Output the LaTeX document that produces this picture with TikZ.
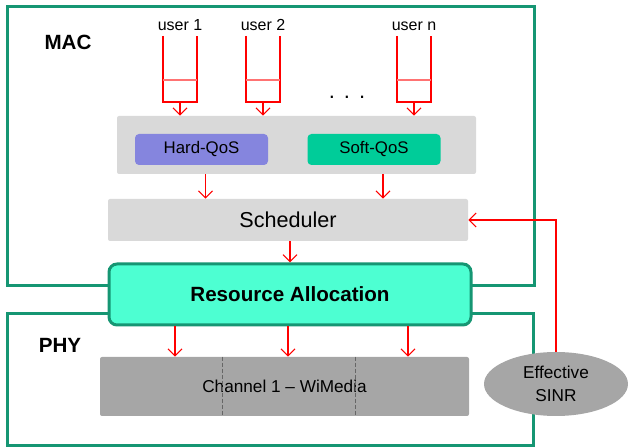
\documentclass[tikz,border=0pt]{standalone}
\usepackage{fontspec}
\setmainfont{Liberation Sans}
\usetikzlibrary{arrows.meta,shapes.geometric}
\definecolor{frameGreen}{RGB}{22,150,115}
\definecolor{raFill}{RGB}{77,255,210}
\definecolor{hardFill}{RGB}{133,133,222}
\definecolor{softFill}{RGB}{0,204,153}
\definecolor{boxGray}{RGB}{217,217,217}
\definecolor{chanGray}{RGB}{166,166,166}

\begin{document}
\begin{tikzpicture}[x=0.5pt,y=-0.5pt,
   frame/.style={draw=frameGreen, line width=1.5pt},
   flow/.style={draw=red, line width=0.55pt, -{Straight Barb[length=3.5pt,width=7pt]}},
   queue/.style={minimum width=17pt, minimum height=33pt, inner sep=0pt, outer sep=0pt},
   userlabel/.style={anchor=south, inner sep=1.5pt, font=\fontsize{8}{9}\selectfont},
   layer/.style={font=\bfseries\fontsize{10.3}{12}\selectfont},
   qosbox/.style={rounded corners=2pt, minimum width=66.5pt, minimum height=15.5pt,
                  font=\fontsize{8.4}{10}\selectfont},
   graybox/.style={fill=boxGray, rounded corners=1pt}]

\useasboundingbox (0,0) rectangle (628,448);

% MAC and PHY layers
\draw[frame] (7,7) rectangle (534,286);
\draw[frame] (7,314) rectangle (533,446);
\node[layer] (mac) at (68,42) {MAC};
\node[layer] (phy) at (60,345) {PHY};

% user queues
\foreach \c/\n/\lw in {180/1/0.7pt, 263/2/1.1pt, 414/n/0.7pt}{
    \node[queue] (q\n) at (\c,69) {};
    \draw[red, line width=\lw] (q\n.north west) -- (q\n.south west)
        -- (q\n.south east) -- (q\n.north east);
    \draw[red!55, line width=\lw] ([yshift=11pt]q\n.south west) -- ([yshift=11pt]q\n.south east);
    \node[userlabel] (u\n) at ([yshift=1pt]q\n.north) {user \n};
}
\node[anchor=base, font=\fontsize{11}{12}\selectfont] (dots) at (347,99)
    {.\hspace{4.5pt}.\hspace{4.5pt}.};

% QoS classes
\node[graybox, minimum width=179.5pt, minimum height=29pt] (qos) at (296.5,145) {};
\node[qosbox, fill=hardFill] (hard) at (201.5,149.5) {Hard-QoS};
\node[qosbox, fill=softFill] (soft) at (374,149.5) {Soft-QoS};
\foreach \n in {1,2,n}
    \draw[flow] (q\n.south) -- (q\n.south |- qos.north);

% scheduler
\node[graybox, minimum width=180pt, minimum height=21pt,
      font=\fontsize{10.8}{12}\selectfont] (sched) at (288,220) {Scheduler};
\draw[flow] ([xshift=2pt]hard.south |- qos.south) -- ([xshift=2pt]hard.south |- sched.north);
\draw[flow] ([xshift=4.5pt]soft.south |- qos.south) -- ([xshift=4.5pt]soft.south |- sched.north);

% resource allocation
\node[draw=frameGreen, line width=1.5pt, fill=raFill, rounded corners=4pt,
      minimum width=181pt, minimum height=30.5pt,
      font=\bfseries\fontsize{10.3}{12}\selectfont] (ra) at (290,294.5) {Resource Allocation};
\draw[flow] ([xshift=1pt]sched.south) -- ([xshift=1pt]sched.south |- ra.north);

% channel
\node[fill=chanGray, rounded corners=1pt, minimum width=184.5pt, minimum height=29.5pt,
      font=\fontsize{8.6}{10}\selectfont, text=black] (chan) at (284.5,386.5)
      {Channel 1 -- WiMedia};
\foreach \dx in {-31.25pt,35.25pt}
    \draw[black!60, dashed, line width=0.4pt, dash pattern=on 2pt off 1pt]
        ([xshift=\dx]chan.north) -- ([xshift=\dx]chan.south);
\foreach \dx in {-57.5pt,-1pt,59pt}
    \draw[flow] ([xshift=\dx]ra.south) -- ([xshift=\dx]ra.south |- chan.north);

% effective SINR feedback
\node[ellipse, fill=chanGray, minimum width=72pt, minimum height=32pt, inner sep=0pt,
      align=center, font=\fontsize{8.6}{11.5}\selectfont] (sinr) at (556,384)
      {Effective\\SINR};
\draw[flow] (sinr.north) |- (sched.east);

\end{tikzpicture}
\end{document}
